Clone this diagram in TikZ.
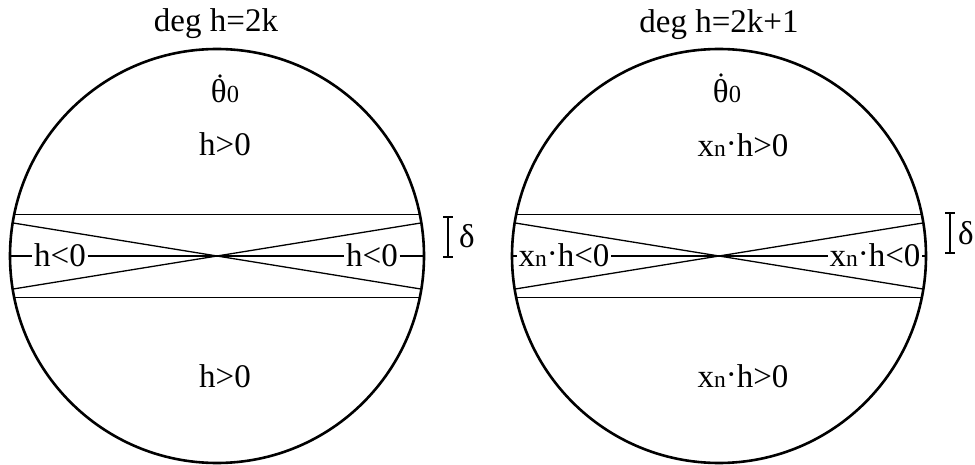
\documentclass[tikz,border=0pt]{standalone}
\usepackage{fontspec}
\setmainfont{Liberation Serif}
\usetikzlibrary{calc}
\newcommand{\xnd}{x{\fontsize{23.5}{24}\selectfont n}\raisebox{2pt}{·}}
\newcommand{\thz}{θ{\fontsize{24.5}{25}\selectfont 0}}
\begin{document}
\begin{tikzpicture}[x=1pt,y=-1pt, font=\fontsize{33}{39}\selectfont,
  rim/.style={line width=2.6pt},
  chord/.style={line width=1.3pt},
  lbl/.style={inner sep=0pt, anchor=base},
  mlbl/.style={inner ysep=0pt, inner xsep=1.5pt, anchor=base},
  dotmark/.style={fill=black}]
\useasboundingbox (0,0) rectangle (975,465);

% ---------- left disc ----------
\coordinate (L) at (217,256);
\draw[rim] (L) circle (207pt);
\draw[chord] ($(L)+(-202.8,-41.5)$) -- ($(L)+(202.8,-41.5)$);
\draw[chord] ($(L)+(-202.8,41.5)$) -- ($(L)+(202.8,41.5)$);
\draw[chord] ($(L)+(9.2:207pt)$) -- ($(L)+(189.2:207pt)$);
\draw[chord] ($(L)+(-9.2:207pt)$) -- ($(L)+(170.8:207pt)$);
\coordinate (Lw) at ($(L)+(-207,0)$);
\coordinate (Le) at ($(L)+(207,0)$);
\node[mlbl] (Lm1) at (60,267) {h<0};
\node[mlbl] (Lm2) at (372,267) {h<0};
\draw[chord] (Lw) -- (Lw -| Lm1.west);
\draw[chord] (Lw -| Lm1.east) -- (Lw -| Lm2.west);
\draw[chord] (Lw -| Lm2.east) -- (Le);

\node[lbl] (t1) at (216,32) {deg h=2k};
\node[lbl] (th1) at (225,103) {\thz};
\fill[dotmark] (220,76) circle (1.8pt);
\node[lbl] (Lup) at (225,156) {h>0};
\node[lbl] (Llo) at (225,387) {h>0};

% delta bracket left
\coordinate (d1a) at (448,217);
\coordinate (d1b) at (448,257);
\draw[chord] (d1a) -- (d1b);
\draw[chord] ($(d1a)+(-5,0)$) -- ($(d1a)+(5,0)$);
\draw[chord] ($(d1b)+(-5,0)$) -- ($(d1b)+(5,0)$);
\node[lbl] (del1) at (467,248) {δ};

% ---------- right disc ----------
\coordinate (R) at (719,256);
\draw[rim] (R) circle (207pt);
\draw[chord] ($(R)+(-202.8,-41.5)$) -- ($(R)+(202.8,-41.5)$);
\draw[chord] ($(R)+(-202.8,41.5)$) -- ($(R)+(202.8,41.5)$);
\draw[chord] ($(R)+(9.2:207pt)$) -- ($(R)+(189.2:207pt)$);
\draw[chord] ($(R)+(-9.2:207pt)$) -- ($(R)+(170.8:207pt)$);
\coordinate (Rw) at ($(R)+(-207,0)$);
\coordinate (Re) at ($(R)+(207,0)$);
\node[mlbl] (Rm1) at (564,267) {\xnd h<0};
\node[mlbl] (Rm2) at (875,267) {\xnd h<0};
\draw[chord] (Rw) -- (Rw -| Rm1.west);
\draw[chord] (Rw -| Rm1.east) -- (Rw -| Rm2.west);
\draw[chord] (Rw -| Rm2.east) -- (Re);

\node[lbl] (t2) at (719,33) {deg h=2k+1};
\node[lbl] (th2) at (727,103) {\thz};
\fill[dotmark] (721,75) circle (1.8pt);
\node[lbl] (Rup) at (743,157) {\xnd h>0};
\node[lbl] (Rlo) at (743,387) {\xnd h>0};

% delta bracket right
\coordinate (d2a) at (950,213);
\coordinate (d2b) at (950,253);
\draw[chord] (d2a) -- (d2b);
\draw[chord] ($(d2a)+(-5,0)$) -- ($(d2a)+(5,0)$);
\draw[chord] ($(d2b)+(-5,0)$) -- ($(d2b)+(5,0)$);
\node[lbl] (del2) at (966,245) {δ};
\end{tikzpicture}
\end{document}
